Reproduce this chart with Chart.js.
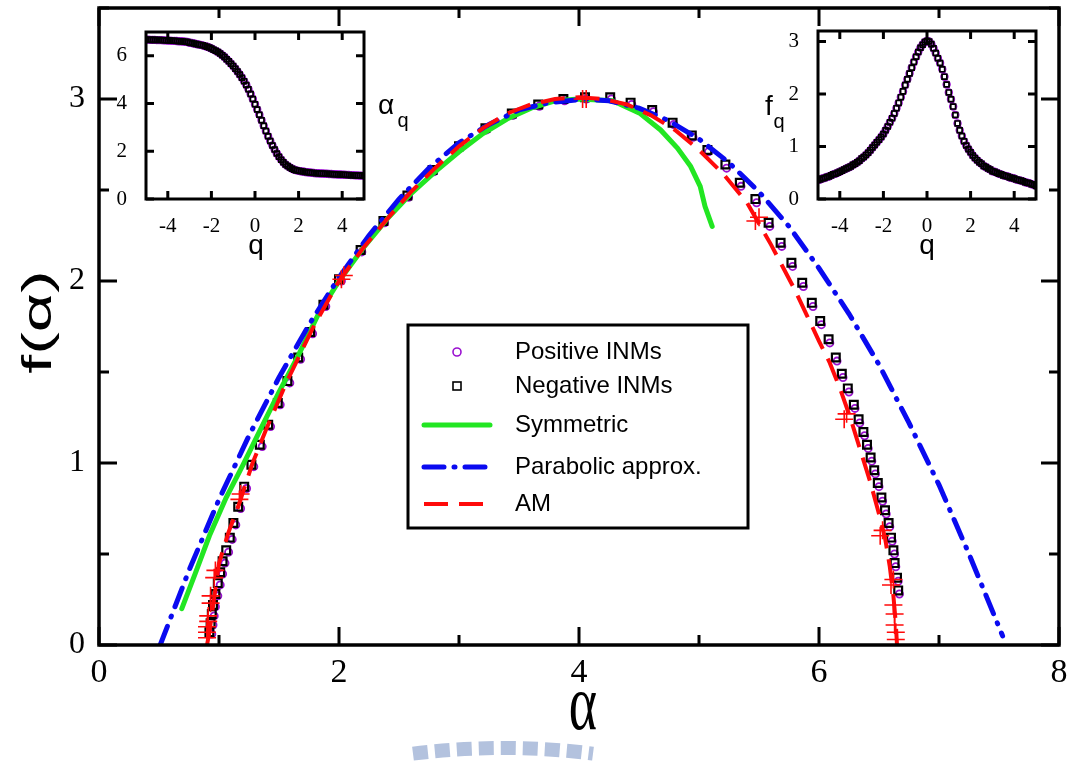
<!DOCTYPE html>
<html>
<head>
<meta charset="utf-8">
<script src="https://cdn.jsdelivr.net/npm/chart.js@4.4.0/dist/chart.umd.min.js"></script>
<style>
  html, body { margin: 0; padding: 0; background: #fff; }
  #wrap { position: relative; width: 1078px; height: 761px; overflow: hidden; }
  #wrap canvas { position: absolute; left: 0; top: 0; }
</style>
</head>
<body>
<div id="wrap">
  <canvas id="mainChart" width="1078" height="761"></canvas>
  <canvas id="alphaInset" width="1078" height="761"></canvas>
  <canvas id="fInset" width="1078" height="761"></canvas>
</div>
<script>
// f(alpha) spectrum with two insets (alpha_q and f_q against q)

const SANS = '"Liberation Sans", Arial, sans-serif';
const SERIF = '"Liberation Serif", "Times New Roman", serif';

const COLORS = {
    positive: '#9a10d0',
    negative: '#000000',
    symmetric: '#22e622',
    parabolic: '#0a0af0',
    am: '#ff0a0a'
};

// ---- main panel: tick values ----
const alphaTicks = [0, 1, 2, 3, 4, 5, 6, 7, 8];
const fTicks = [0, 0.5, 1, 1.5, 2, 2.5, 3, 3.5];

// ---- main panel: data ----
const negAlpha = [0.92, 0.93, 0.94, 0.95, 0.97, 0.99, 1.01, 1.03, 1.06, 1.09, 1.12, 1.16, 1.21, 1.27, 1.34, 1.41, 1.49, 1.57, 1.66, 1.76, 1.87, 2.00, 2.18, 2.37, 2.57, 2.78, 3.00, 3.22, 3.44, 3.66, 3.87,
    4.05, 4.26, 4.43, 4.61, 4.78, 4.94, 5.07, 5.22, 5.34, 5.47, 5.58, 5.68, 5.77, 5.86, 5.94, 6.01, 6.08, 6.14, 6.19, 6.24, 6.29, 6.33, 6.37, 6.40, 6.43, 6.46, 6.49, 6.52, 6.55, 6.58, 6.60, 6.62, 6.63, 6.65, 6.66];
const negF = [0.07, 0.12, 0.17, 0.22, 0.28, 0.34, 0.40, 0.46, 0.52, 0.59, 0.67, 0.76, 0.87, 0.99, 1.10, 1.21, 1.33, 1.45, 1.58, 1.72, 1.87, 2.01, 2.17, 2.33, 2.47, 2.61, 2.74, 2.84, 2.92, 2.97, 3.00,
    3.01, 3.01, 2.98, 2.94, 2.87, 2.80, 2.72, 2.64, 2.54, 2.45, 2.32, 2.21, 2.10, 1.99, 1.88, 1.78, 1.68, 1.58, 1.49, 1.41, 1.32, 1.24, 1.17, 1.10, 1.03, 0.96, 0.89, 0.81, 0.74, 0.67, 0.59, 0.52, 0.45, 0.37, 0.30];

const posAlpha = [0.94, 0.95, 0.96, 0.97, 0.99, 1.01, 1.03, 1.05, 1.08, 1.11, 1.14, 1.18, 1.23, 1.29, 1.36, 1.43, 1.51, 1.59, 1.68, 1.78, 1.89, 2.02, 2.19, 2.38, 2.58, 2.79, 3.01, 3.23, 3.45, 3.67, 3.88,
    4.06, 4.27, 4.44, 4.62, 4.79, 4.95, 5.08, 5.23, 5.35, 5.48, 5.59, 5.69, 5.78, 5.87, 5.95, 6.02, 6.09, 6.15, 6.20, 6.25, 6.30, 6.34, 6.38, 6.41, 6.44, 6.47, 6.50, 6.53, 6.56, 6.59, 6.61, 6.63, 6.64, 6.66, 6.67];
const posF = [0.06, 0.11, 0.16, 0.21, 0.27, 0.33, 0.39, 0.45, 0.51, 0.58, 0.66, 0.75, 0.86, 0.98, 1.09, 1.20, 1.32, 1.44, 1.57, 1.71, 1.86, 2.00, 2.16, 2.32, 2.46, 2.60, 2.73, 2.83, 2.91, 2.96, 2.99,
    3.00, 3.00, 2.97, 2.93, 2.86, 2.79, 2.71, 2.62, 2.52, 2.43, 2.30, 2.19, 2.08, 1.97, 1.86, 1.76, 1.66, 1.56, 1.47, 1.39, 1.30, 1.22, 1.15, 1.08, 1.01, 0.94, 0.87, 0.79, 0.72, 0.65, 0.57, 0.50, 0.43, 0.35, 0.28];

const symAlpha = [0.69, 0.80, 0.92, 1.06, 1.20, 1.35, 1.50, 1.66, 1.83, 2.00, 2.20, 2.40, 2.60, 2.80, 3.00, 3.20, 3.40, 3.60, 3.80, 4.00, 4.28, 4.51, 4.68, 4.82, 4.93, 5.01, 5.05, 5.11];
const symF = [0.20, 0.39, 0.60, 0.81, 0.99, 1.19, 1.39, 1.59, 1.82, 2.00, 2.18, 2.34, 2.48, 2.60, 2.71, 2.81, 2.89, 2.95, 2.99, 3.00, 2.99, 2.92, 2.83, 2.73, 2.63, 2.52, 2.41, 2.30];

const parAlpha = [0.51, 0.75, 1.00, 1.25, 1.50, 1.75, 2.00, 2.25, 2.50, 2.75, 3.00, 3.25, 3.50, 3.75, 4.05, 4.25, 4.50, 4.75, 5.00, 5.25, 5.50, 5.75, 6.00, 6.25, 6.50, 6.75, 7.00, 7.25, 7.53];
const parF = [0.00, 0.41, 0.80, 1.15, 1.47, 1.76, 2.02, 2.25, 2.45, 2.62, 2.76, 2.86, 2.94, 2.98, 3.00, 2.99, 2.95, 2.88, 2.78, 2.65, 2.49, 2.30, 2.07, 1.82, 1.54, 1.22, 0.88, 0.50, 0.05];

const amAlpha = [0.90, 0.92, 0.96, 1.00, 1.08, 1.17, 1.28, 1.39, 1.56, 1.78, 2.00, 2.20, 2.40, 2.60, 2.80, 3.00, 3.20, 3.40, 3.60, 3.80, 4.00, 4.20, 4.40, 4.60, 4.80, 5.00, 5.20, 5.40, 5.60, 5.80, 5.90, 6.00, 6.09, 6.18, 6.26, 6.34, 6.43, 6.50, 6.55, 6.59, 6.62, 6.64, 6.65];
const amF = [0.00, 0.07, 0.26, 0.45, 0.62, 0.78, 1.00, 1.18, 1.44, 1.74, 2.00, 2.18, 2.34, 2.49, 2.62, 2.74, 2.84, 2.92, 2.97, 3.00, 3.01, 3.00, 2.97, 2.91, 2.83, 2.72, 2.59, 2.43, 2.20, 1.95, 1.81, 1.67, 1.55, 1.40, 1.25, 1.08, 0.89, 0.72, 0.59, 0.43, 0.27, 0.12, 0.00];

// red "+" marks along the AM curve
const crossAlpha = [0.90, 0.90, 0.90, 0.91, 0.91, 0.93, 0.93, 0.96, 0.97, 1.17, 1.18, 2.02, 2.04, 4.03, 4.06, 5.47, 5.50, 6.21, 6.23, 6.51, 6.53, 6.60, 6.62, 6.62, 6.63, 6.63, 6.64, 6.64];
const crossF = [0.04, 0.07, 0.10, 0.13, 0.16, 0.23, 0.27, 0.37, 0.41, 0.80, 0.83, 2.01, 2.03, 3.00, 3.00, 2.33, 2.35, 1.24, 1.27, 0.60, 0.63, 0.33, 0.36, 0.22, 0.17, 0.11, 0.07, 0.03];

// ---- insets: q grid and curves ----
const qTicks = [-4, -2, 0, 2, 4];
const alphaQTicks = [0, 2, 4, 6];
const fQTicks = [0, 1, 2, 3];

const qValues = [-5.0, -4.9, -4.8, -4.7, -4.6, -4.5, -4.4, -4.3, -4.2, -4.1,
    -4.0, -3.9, -3.8, -3.7, -3.6, -3.5, -3.4, -3.3, -3.2, -3.1,
    -3.0, -2.9, -2.8, -2.7, -2.6, -2.5, -2.4, -2.3, -2.2, -2.1,
    -2.0, -1.9, -1.8, -1.7, -1.6, -1.5, -1.4, -1.3, -1.2, -1.1,
    -1.0, -0.9, -0.8, -0.7, -0.6, -0.5, -0.4, -0.3, -0.2, -0.1,
    0.0, 0.1, 0.2, 0.3, 0.4, 0.5, 0.6, 0.7, 0.8, 0.9,
    1.0, 1.1, 1.2, 1.3, 1.4, 1.5, 1.6, 1.7, 1.8, 1.9,
    2.0, 2.1, 2.2, 2.3, 2.4, 2.5, 2.6, 2.7, 2.8, 2.9,
    3.0, 3.1, 3.2, 3.3, 3.4, 3.5, 3.6, 3.7, 3.8, 3.9,
    4.0, 4.1, 4.2, 4.3, 4.4, 4.5, 4.6, 4.7, 4.8, 4.9, 5.0];

const alphaQ = [6.68, 6.68, 6.67, 6.67, 6.67, 6.66, 6.66, 6.66, 6.65, 6.65,
    6.64, 6.64, 6.63, 6.63, 6.62, 6.61, 6.61, 6.60, 6.59, 6.58,
    6.55, 6.54, 6.52, 6.50, 6.48, 6.46, 6.44, 6.41, 6.38, 6.35,
    6.31, 6.26, 6.21, 6.16, 6.10, 6.03, 5.95, 5.86, 5.77, 5.67,
    5.57, 5.46, 5.34, 5.22, 5.08, 4.94, 4.78, 4.60, 4.40, 4.19,
    3.97, 3.75, 3.53, 3.30, 3.07, 2.85, 2.63, 2.43, 2.24, 2.07,
    1.91, 1.77, 1.65, 1.54, 1.45, 1.38, 1.32, 1.27, 1.23, 1.20,
    1.18, 1.16, 1.15, 1.13, 1.12, 1.11, 1.10, 1.09, 1.08, 1.08,
    1.07, 1.07, 1.06, 1.06, 1.05, 1.05, 1.04, 1.04, 1.03, 1.03,
    1.02, 1.02, 1.01, 1.01, 1.00, 1.00, 0.99, 0.99, 0.98, 0.98, 0.97];

const fQ = [0.36, 0.37, 0.39, 0.40, 0.42, 0.43, 0.45, 0.47, 0.48, 0.50,
    0.52, 0.54, 0.56, 0.58, 0.60, 0.62, 0.65, 0.67, 0.70, 0.73,
    0.77, 0.80, 0.84, 0.88, 0.93, 0.98, 1.03, 1.08, 1.13, 1.18,
    1.24, 1.31, 1.38, 1.46, 1.54, 1.63, 1.73, 1.83, 1.94, 2.05,
    2.17, 2.28, 2.39, 2.50, 2.61, 2.71, 2.80, 2.88, 2.94, 2.99,
    3.01, 3.00, 2.95, 2.87, 2.78, 2.68, 2.59, 2.47, 2.33, 2.18,
    2.03, 1.90, 1.76, 1.60, 1.44, 1.31, 1.20, 1.10, 1.02, 0.95,
    0.89, 0.83, 0.78, 0.74, 0.70, 0.67, 0.63, 0.61, 0.58, 0.56,
    0.53, 0.52, 0.50, 0.48, 0.47, 0.45, 0.44, 0.43, 0.41, 0.40,
    0.39, 0.37, 0.36, 0.35, 0.34, 0.32, 0.31, 0.30, 0.28, 0.27, 0.25];

function pts(xs, ys) {
    return xs.map((x, i) => ({ x: x, y: ys[i] }));
}

// ---- plugins ----

// white plot area, boxed frame and inward ticks on all four sides
function makeFrame(o) {
    return {
        id: 'frame',
        beforeDraw(chart) {
            const a = chart.chartArea, ctx = chart.ctx;
            ctx.save();
            ctx.fillStyle = '#fff';
            ctx.fillRect(a.left, a.top, a.width, a.height);
            ctx.restore();
        },
        afterDraw(chart) {
            const { ctx, chartArea: a, scales } = chart;
            const isMajor = (v, step) => Math.abs(v / step - Math.round(v / step)) < 1e-6;
            ctx.save();
            ctx.strokeStyle = '#000';
            ctx.lineWidth = o.tickWidth;
            scales.x.ticks.forEach(t => {
                const px = scales.x.getPixelForValue(t.value);
                const len = isMajor(t.value, o.xMajor) ? o.major : o.minor;
                ctx.beginPath();
                ctx.moveTo(px, a.bottom); ctx.lineTo(px, a.bottom - len);
                ctx.moveTo(px, a.top); ctx.lineTo(px, a.top + len);
                ctx.stroke();
            });
            scales.y.ticks.forEach(t => {
                const py = scales.y.getPixelForValue(t.value);
                const len = isMajor(t.value, o.yMajor) ? o.major : o.minor;
                ctx.beginPath();
                ctx.moveTo(a.left, py); ctx.lineTo(a.left + len, py);
                ctx.moveTo(a.right, py); ctx.lineTo(a.right - len, py);
                ctx.stroke();
            });
            ctx.lineWidth = o.frameWidth;
            ctx.strokeRect(a.left, a.top, a.width, a.height);
            ctx.restore();
        }
    };
}

function makeTexts(items) {
    return {
        id: 'texts',
        afterDraw(chart) {
            const ctx = chart.ctx;
            items.forEach(it => {
                ctx.save();
                ctx.translate(it.x, it.y);
                if (it.rot) ctx.rotate(it.rot);
                ctx.scale(it.sx || 1, it.sy || 1);
                ctx.font = it.font;
                ctx.fillStyle = '#000';
                ctx.textAlign = 'center';
                ctx.textBaseline = 'middle';
                ctx.fillText(it.text, 0, 0);
                ctx.restore();
            });
        }
    };
}

// boxed legend inside the plot, built from the dataset styles
const legendBox = {
    id: 'legendBox',
    afterDraw(chart) {
        const ctx = chart.ctx;
        const rowsY = [352, 386, 425, 467, 504];
        ctx.save();
        ctx.fillStyle = '#fff';
        ctx.fillRect(408, 325, 340, 203);
        ctx.strokeStyle = '#000';
        ctx.lineWidth = 3;
        ctx.strokeRect(408, 325, 340, 203);
        chart.data.datasets.slice(0, 5).forEach((ds, i) => {
            const y = rowsY[i];
            ctx.save();
            ctx.strokeStyle = ds.borderColor;
            ctx.lineWidth = ds.showLine ? ds.borderWidth : 1.6;
            if (ds.showLine) {
                ctx.setLineDash(ds.borderDash || []);
                ctx.lineCap = ds.borderCapStyle || 'butt';
                ctx.beginPath();
                ctx.moveTo(424, y); ctx.lineTo(490, y);
                ctx.stroke();
            } else if (ds.pointStyle === 'circle') {
                ctx.beginPath();
                ctx.arc(457, y, 4, 0, Math.PI * 2);
                ctx.stroke();
            } else {
                ctx.strokeRect(453, y - 4, 8, 8);
            }
            ctx.restore();
            ctx.fillStyle = '#000';
            ctx.font = `24px ${SANS}`;
            ctx.textAlign = 'left';
            ctx.textBaseline = 'middle';
            ctx.fillText(ds.label, 515, y);
        });
        ctx.restore();
    }
};

// faint watermark band at the bottom of the page
const watermark = {
    id: 'watermark',
    afterDraw(chart) {
        const ctx = chart.ctx;
        ctx.save();
        ctx.strokeStyle = '#b3c2de';
        ctx.lineWidth = 14;
        ctx.setLineDash([15, 7]);
        ctx.beginPath();
        ctx.arc(503, 1470, 722, -Math.PI / 2 - 0.125, -Math.PI / 2 + 0.125);
        ctx.stroke();
        ctx.restore();
    }
};

function fixedTicks(list) {
    return scale => { scale.ticks = list.map(v => ({ value: v })); };
}

// pin axis thickness and drop the label overhang padding
function fitWidth(w) {
    return s => { s.width = w; s.paddingTop = 0; s.paddingBottom = 0; };
}
function fitHeight(h) {
    return s => { s.height = h; s.paddingLeft = 0; s.paddingRight = 0; };
}

// ---- main chart ----
new Chart(document.getElementById('mainChart'), {
    type: 'scatter',
    data: {
        datasets: [
            {
                label: 'Positive INMs',
                data: pts(posAlpha, posF),
                pointStyle: 'circle', pointRadius: 3.6, borderWidth: 1.8,
                borderColor: COLORS.positive, backgroundColor: 'rgba(0,0,0,0)',
                order: 6
            },
            {
                label: 'Negative INMs',
                data: pts(negAlpha, negF),
                pointStyle: 'rect', pointRadius: 5.5, borderWidth: 2.2,
                borderColor: COLORS.negative, backgroundColor: 'rgba(0,0,0,0)',
                order: 5
            },
            {
                label: 'Symmetric',
                data: pts(symAlpha, symF),
                showLine: true, pointRadius: 0, borderWidth: 5,
                borderColor: COLORS.symmetric, borderCapStyle: 'round',
                order: 3
            },
            {
                label: 'Parabolic approx.',
                data: pts(parAlpha, parF),
                showLine: true, pointRadius: 0, borderWidth: 5,
                borderColor: COLORS.parabolic, borderDash: [20, 10, 1, 10], borderCapStyle: 'round',
                order: 2
            },
            {
                label: 'AM',
                data: pts(amAlpha, amF),
                showLine: true, pointRadius: 0, borderWidth: 4,
                borderColor: COLORS.am, borderDash: [24, 11],
                order: 1
            },
            {
                label: 'AM marks',
                data: pts(crossAlpha, crossF),
                pointStyle: 'cross', pointRadius: 9, borderWidth: 1.6,
                borderColor: COLORS.am,
                order: 0
            }
        ]
    },
    options: {
        responsive: false,
        animation: false,
        devicePixelRatio: 1,
        events: [],
        layout: { autoPadding: false, padding: { left: 0, top: 8, right: 19, bottom: 0 } },
        plugins: { legend: { display: false }, tooltip: { enabled: false } },
        scales: {
            x: {
                type: 'linear', min: 0, max: 8,
                afterBuildTicks: fixedTicks(alphaTicks),
                afterFit: fitHeight(116),
                grid: { display: false }, border: { display: false },
                ticks: {
                    color: '#000', padding: 0, maxRotation: 0, autoSkip: false,
                    font: { family: SERIF, size: 34 },
                    callback: v => (v % 2 === 0 ? String(v) : '')
                }
            },
            y: {
                type: 'linear', min: 0, max: 3.5,
                afterBuildTicks: fixedTicks(fTicks),
                afterFit: fitWidth(99),
                grid: { display: false }, border: { display: false },
                ticks: {
                    color: '#000', padding: 6, autoSkip: false,
                    font: { family: SERIF, size: 32 },
                    callback: v => (Number.isInteger(v) ? String(v) : '')
                }
            }
        }
    },
    plugins: [
        makeFrame({ xMajor: 2, yMajor: 1, major: 18, minor: 10, tickWidth: 3, frameWidth: 3.5 }),
        legendBox,
        watermark,
        makeTexts([
            { text: 'f(α)', x: 40, y: 322, rot: -Math.PI / 2, sx: 1.7, font: `40px ${SANS}` },
            { text: 'α', x: 583, y: 708, sy: 1.45, font: `54px ${SERIF}` }
        ])
    ]
});

// ---- insets ----
function insetChart(canvasId, yValues, yMax, yTicks, pad, texts) {
    return new Chart(document.getElementById(canvasId), {
        type: 'scatter',
        data: {
            datasets: [
                {
                    label: 'Negative INMs',
                    data: pts(qValues, yValues),
                    pointStyle: 'rect', pointRadius: 3.4, borderWidth: 1.7,
                    borderColor: COLORS.negative, backgroundColor: 'rgba(0,0,0,0)',
                    order: 1
                },
                {
                    label: 'Positive INMs',
                    data: pts(qValues, yValues),
                    pointStyle: 'circle', pointRadius: 3.3, borderWidth: 1.8,
                    borderColor: COLORS.positive, backgroundColor: 'rgba(0,0,0,0)',
                    order: 2
                }
            ]
        },
        options: {
            responsive: false,
            animation: false,
            devicePixelRatio: 1,
            events: [],
            layout: { autoPadding: false, padding: pad },
            plugins: { legend: { display: false }, tooltip: { enabled: false } },
            scales: {
                x: {
                    type: 'linear', min: -5, max: 5,
                    afterBuildTicks: fixedTicks(qTicks),
                    afterFit: fitHeight(40),
                    grid: { display: false }, border: { display: false },
                    ticks: { color: '#000', padding: 7, maxRotation: 0, autoSkip: false, font: { family: SERIF, size: 21 } }
                },
                y: {
                    type: 'linear', min: 0, max: yMax,
                    afterBuildTicks: fixedTicks(yTicks),
                    afterFit: fitWidth(40),
                    grid: { display: false }, border: { display: false },
                    ticks: { color: '#000', padding: 11, autoSkip: false, font: { family: SERIF, size: 21 } }
                }
            }
        },
        plugins: [
            makeFrame({ xMajor: 2, yMajor: 1, major: 8, minor: 8, tickWidth: 3, frameWidth: 3 }),
            makeTexts(texts)
        ]
    });
}

insetChart('alphaInset', alphaQ, 7, alphaQTicks,
    { left: 106, top: 32, right: 714, bottom: 522 },
    [
        { text: 'q', x: 256, y: 246, font: `28px ${SANS}` },
        { text: 'α', x: 386, y: 106, font: `28px ${SANS}` },
        { text: 'q', x: 403, y: 121, font: `20px ${SANS}` }
    ]);

insetChart('fInset', fQ, 3.2, fQTicks,
    { left: 778, top: 31, right: 42, bottom: 522 },
    [
        { text: 'q', x: 927, y: 246, font: `28px ${SANS}` },
        { text: 'f', x: 769, y: 107, font: `28px ${SANS}` },
        { text: 'q', x: 779, y: 122, font: `20px ${SANS}` }
    ]);
</script>
</body>
</html>
